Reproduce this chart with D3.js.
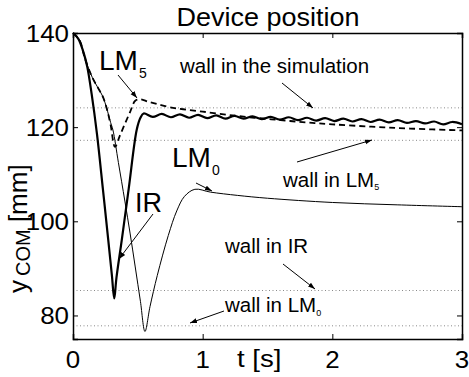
<!DOCTYPE html>
<html>
<head>
<meta charset="utf-8">
<script src="https://cdn.jsdelivr.net/npm/d3@7"></script>
<style>
  html, body { margin: 0; padding: 0; background: #fff; }
  svg { display: block; font-family: "Liberation Sans", Arial, Helvetica, sans-serif; }
</style>
</head>
<body>
<svg id="chart" width="469" height="377"></svg>
<script>
// Time samples [s] and centre-of-mass positions [mm] for each controller
const irTime = [0, 0.04, 0.08, 0.11, 0.144, 0.185, 0.23, 0.272, 0.3, 0.318, 0.335, 0.376, 0.43, 0.491, 0.52, 0.545,
  0.615, 0.685, 0.755, 0.825, 0.895, 0.965, 1.035, 1.105, 1.175, 1.245, 1.315, 1.385, 1.455, 1.525, 1.595,
  1.665, 1.735, 1.805, 1.875, 1.945, 2.015, 2.085, 2.155, 2.225, 2.295, 2.365, 2.435, 2.505, 2.575, 2.645,
  2.715, 2.785, 2.855, 2.925, 3.0];
const irPos = [140, 138.8, 136, 132.8, 127, 118.5, 107, 96, 88.5, 83.6, 88, 96, 107, 119.4, 122, 122.9,
  122.2, 122.8, 122.1, 122.7, 122.0, 122.6, 121.9, 122.5, 121.8, 122.4, 121.8, 122.3, 121.7, 122.2, 121.6,
  122.1, 121.5, 122.0, 121.4, 121.9, 121.3, 121.8, 121.2, 121.7, 121.1, 121.6, 121.0, 121.5, 120.9, 121.3,
  120.8, 121.2, 120.6, 121.1, 120.6];

const lm5Time = [0, 0.05, 0.093, 0.15, 0.2, 0.23, 0.26, 0.29, 0.324, 0.36, 0.4, 0.44, 0.48, 0.52, 0.58, 0.65,
  0.75, 0.85, 1.0, 1.2, 1.4, 1.6, 1.8, 2.0, 2.3, 2.6, 3.0];
const lm5Pos = [140, 138.5, 134.5, 130.5, 128, 126.5, 124, 120.5, 115.8, 118.1, 120.7, 123.2, 125.6, 125.9, 125.4, 124.9,
  124.2, 123.8, 123.3, 122.6, 122.0, 121.5, 121.0, 120.6, 120.1, 119.7, 119.3];

const lm0Time = [0, 0.05, 0.093, 0.15, 0.2, 0.23, 0.26, 0.29, 0.308, 0.35, 0.4, 0.44, 0.48, 0.52, 0.555, 0.594,
  0.65, 0.735, 0.8, 0.86, 0.94, 1.06, 1.27, 1.5, 2.0, 2.5, 3.0];
const lm0Pos = [140, 138.5, 134.5, 130.5, 128, 126.5, 124, 121, 119.4, 112.5, 104.3, 97.5, 90.3, 83, 76.6, 81.9,
  88.5, 97.0, 102.2, 105.3, 106.8, 106.2, 105.5, 104.9, 104.0, 103.5, 103.1];

// Wall positions [mm]
const wallNames = ["simulation", "LM5", "IR", "LM0"];
const wallPos = [124.1, 117.2, 85.3, 77.8];

// Axis ticks
const xTicks = [0, 1, 2, 3];
const yTicks = [80, 100, 120, 140];

const svg = d3.select("#chart");
const plotL = 73, plotR = 462, plotT = 33, plotB = 339;

const x = d3.scaleLinear().domain([0, 3]).range([plotL, plotR]);
const y = d3.scaleLinear().domain([75, 140]).range([plotB, plotT]);

// Arrowhead marker
svg.append("defs").append("marker")
  .attr("id", "arr").attr("viewBox", "0 0 10 10").attr("refX", 10).attr("refY", 5)
  .attr("markerWidth", 7).attr("markerHeight", 7).attr("markerUnits", "userSpaceOnUse")
  .attr("orient", "auto")
  .append("path").attr("d", "M0,1.5 L10,5 L0,8.5 Z").attr("fill", "#000");

// Wall lines
svg.append("g").selectAll("line").data(wallPos).join("line")
  .attr("x1", plotL).attr("x2", plotR)
  .attr("y1", d => y(d)).attr("y2", d => y(d))
  .attr("stroke", "#8a8a8a").attr("stroke-width", 1).attr("stroke-dasharray", "1,2.5");

// Curves
const line = d3.line().x(d => x(d[0])).y(d => y(d[1])).curve(d3.curveCatmullRom.alpha(0.5));
const zip = (a, b) => a.map((v, i) => [v, b[i]]);

svg.append("path").datum(zip(lm0Time, lm0Pos)).attr("d", line)
  .attr("fill", "none").attr("stroke", "#000").attr("stroke-width", 1);
svg.append("path").datum(zip(lm5Time, lm5Pos)).attr("d", line)
  .attr("fill", "none").attr("stroke", "#000").attr("stroke-width", 1.8).attr("stroke-dasharray", "6,4");
svg.append("path").datum(zip(irTime, irPos)).attr("d", line)
  .attr("fill", "none").attr("stroke", "#000").attr("stroke-width", 2.2);

// Axes: box with inward ticks on all sides
const tickLen = 5;
const axB = d3.axisBottom(x).tickValues(xTicks).tickSize(-tickLen).tickFormat("");
const axT = d3.axisTop(x).tickValues(xTicks).tickSize(-tickLen).tickFormat("");
const axL = d3.axisLeft(y).tickValues(yTicks).tickSize(-tickLen).tickFormat("");
const axR = d3.axisRight(y).tickValues(yTicks).tickSize(-tickLen).tickFormat("");
[[axB, `translate(0,${plotB})`], [axT, `translate(0,${plotT})`], [axL, `translate(${plotL},0)`], [axR, `translate(${plotR},0)`]]
  .forEach(([ax, tr]) => {
    const g = svg.append("g").attr("transform", tr).call(ax);
    g.select(".domain").attr("stroke", "#000").attr("stroke-width", 1.5);
    g.selectAll(".tick line").attr("stroke", "#000").attr("stroke-width", 1);
  });

// Text helper with horizontal scaling
function label(px, py, str, size, sx, anchor) {
  return svg.append("text")
    .attr("transform", `translate(${px},${py}) scale(${sx},1)`)
    .attr("text-anchor", anchor || "start")
    .attr("font-size", size).attr("fill", "#000").text(str);
}

// Tick labels
xTicks.forEach(t => label(x(t), 368, d3.format("d")(t), 24, 1.08, "middle"));
yTicks.forEach(v => label(69, y(v) + 9, d3.format("d")(v), 24, 1.08, "end"));

// Title and axis labels
label(268, 26, "Device position", 25, 1.08, "middle");
label(237, 367, "t [s]", 24, 1.15, "start");

const yl = svg.append("text").attr("transform", "translate(27,293) rotate(-90)")
  .attr("font-size", 26).attr("fill", "#000");
yl.append("tspan").text("y");
yl.append("tspan").attr("dx", 4).attr("dy", 3).attr("font-size", 20).text("COM");
yl.append("tspan").attr("dy", -3).text(" [mm]");

// Annotations
function sub(px, py, main, s, size, subSize, subDx, subDy) {
  const t = svg.append("text").attr("x", px).attr("y", py).attr("font-size", size).attr("fill", "#000");
  t.append("tspan").text(main);
  t.append("tspan").attr("dx", subDx).attr("dy", subDy).attr("font-size", subSize).text(s);
  return t;
}
function arrow(x1, y1, x2, y2) {
  svg.append("line").attr("x1", x1).attr("y1", y1).attr("x2", x2).attr("y2", y2)
    .attr("stroke", "#000").attr("stroke-width", 1).attr("marker-end", "url(#arr)");
}

sub(99, 70, "LM", "5", 28, 14, 1, 8);
arrow(118, 75, 137, 98);

sub(172, 167, "LM", "0", 28, 14, 1, 8);
arrow(196, 183, 212, 191);

svg.append("text").attr("x", 135).attr("y", 212).attr("font-size", 27).attr("fill", "#000").text("IR");
arrow(153, 214, 119, 259);

svg.append("text").attr("x", 180).attr("y", 73).attr("font-size", 20.5).attr("fill", "#000").text("wall in the simulation");
arrow(282, 83, 313, 108);

sub(283, 187, "wall in LM", "5", 20.5, 9, 0, 3);
arrow(297, 162, 372, 140);

svg.append("text").attr("x", 225).attr("y", 253).attr("font-size", 20.5).attr("fill", "#000").text("wall in IR");
arrow(283, 264, 315, 289);

sub(225, 312, "wall in LM", "0", 20.5, 9, 0, 4);
arrow(224, 311, 190, 323);
</script>
</body>
</html>
